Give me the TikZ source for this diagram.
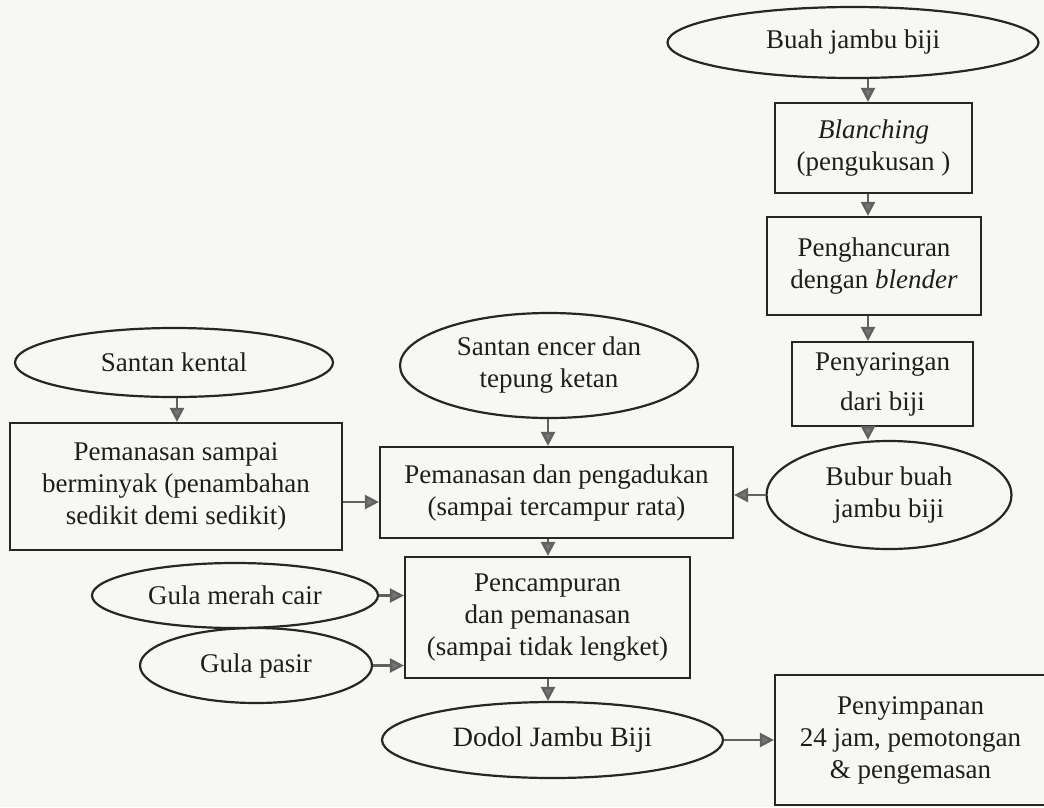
\documentclass[tikz,border=0pt]{standalone}
\usepackage{fontspec}
\setmainfont{Liberation Serif}
\usetikzlibrary{arrows.meta,shapes.geometric}
\definecolor{bg}{HTML}{F7F7F3}
\definecolor{ink}{HTML}{1E1E1E}
\definecolor{edge}{HTML}{262626}
\definecolor{tipc}{HTML}{767676}
\begin{document}
\begin{tikzpicture}[x=1pt,y=-1pt,
  every node/.style={font=\fontsize{27}{32}\selectfont, text=ink, align=center, inner sep=0pt},
  boxnode/.style={draw=edge, line width=2.2pt, rectangle},
  ellnode/.style={draw=edge, line width=2.2pt, ellipse},
  arr/.style={draw=black!62, line width=2.4pt, -{Triangle[length=14pt,width=14pt,fill=tipc]}}]
\fill[bg] (0,0) rectangle (1044,807);
\useasboundingbox (0,0) rectangle (1044,807);
% right column
\node[ellnode, minimum width=371pt, minimum height=71pt] (buah) at (853,42.5) {Buah jambu biji};
\node[boxnode, minimum width=197pt, minimum height=90pt] (blanch) at (873.5,148) {\textit{Blanching}\\(pengukusan )};
\node[boxnode, minimum width=214pt, minimum height=98pt] (hancur) at (874,266) {Penghancuran\\dengan \textit{blender}};
\node[boxnode, minimum width=181pt, minimum height=84pt] (saring) at (882.5,384) {Penyaringan\\[8pt]dari biji};
\node[ellnode, minimum width=245pt, minimum height=108pt] (bubur) at (889,495) {Bubur buah\\jambu biji};
% left column
\node[ellnode, minimum width=318pt, minimum height=69pt] (kental) at (174,362.5) {Santan kental};
\node[boxnode, minimum width=332pt, minimum height=127pt] (panas1) at (176,486.5) {Pemanasan sampai\\berminyak (penambahan\\sedikit demi sedikit)};
% center column
\node[ellnode, minimum width=298pt, minimum height=105pt] (encer) at (549,365.5) {Santan encer dan\\tepung ketan};
\node[boxnode, minimum width=353pt, minimum height=91pt] (aduk) at (556.5,492.5) {Pemanasan dan pengadukan\\(sampai tercampur rata)};
\node[boxnode, minimum width=285pt, minimum height=121pt] (campur) at (547.5,617.5) {Pencampuran\\dan pemanasan\\(sampai tidak lengket)};
\node[ellnode, minimum width=286pt, minimum height=65pt] (merah) at (235,595.5) {Gula merah cair};
\node[ellnode, minimum width=232pt, minimum height=75pt] (pasir) at (256,665.5) {Gula pasir};
\node[ellnode, minimum width=341pt, minimum height=76pt, font=\fontsize{28}{32}\selectfont] (dodol) at (552.5,740) {Dodol Jambu Biji};
\node[boxnode, minimum width=271pt, minimum height=130pt] (simpan) at (910.5,740) {Penyimpanan\\24 jam, pemotongan\\\& pengemasan};
% connector columns
\coordinate (cR) at (868,0);
\coordinate (cC) at (548,0);
\coordinate (cL) at (177,0);
\coordinate (rA) at (0,502);
\draw[arr] (buah.south -| cR) -- (blanch.north -| cR);
\draw[arr] (blanch.south -| cR) -- (hancur.north -| cR);
\draw[arr] (hancur.south -| cR) -- (saring.north -| cR);
\draw[arr] (saring.south -| cR) -- (bubur.north -| cR);
\draw[arr] (kental.south -| cL) -- (panas1.north -| cL);
\draw[arr] (encer.south -| cC) -- (aduk.north -| cC);
\draw[arr] (aduk.south -| cC) -- (campur.north -| cC);
\draw[arr] (campur.south -| cC) -- (dodol.north -| cC);
\draw[arr] (panas1.east |- rA) -- (aduk.west |- rA);
\draw[arr] (bubur.west) -- (aduk.east |- bubur.west);
\draw[arr] (merah.east) -- (campur.west |- merah.east);
\draw[arr] (pasir.east) -- (campur.west |- pasir.east);
\draw[arr] (dodol.east) -- (simpan.west |- dodol.east);
\end{tikzpicture}
\end{document}
